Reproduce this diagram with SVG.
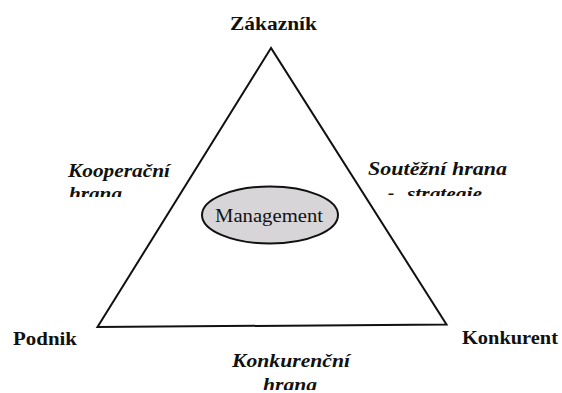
<svg xmlns="http://www.w3.org/2000/svg" width="562" height="393" viewBox="0 0 562 393">
  <style>
    .vertex { font-family: "Liberation Serif", "DejaVu Serif", serif; font-weight: 700; font-size: 19px; fill: #111; }
    .edge { font-family: "Liberation Serif", "DejaVu Serif", serif; font-weight: 700; font-style: italic; font-size: 19px; fill: #111; }
    .core { font-family: "Liberation Serif", "DejaVu Serif", serif; font-size: 19px; fill: #111; }
    .side { fill: none; stroke: #111; stroke-width: 2; stroke-linejoin: miter; }
  </style>
  <defs>
    <!-- second label lines are cut off at their lower edge -->
    <clipPath id="cutLeft"><rect x="0" y="0" width="270" height="197"/></clipPath>
    <clipPath id="cutRight"><rect x="280" y="0" width="282" height="196"/></clipPath>
    <clipPath id="cutBottom"><rect x="0" y="0" width="562" height="390"/></clipPath>
  </defs>
  <rect width="562" height="393" fill="#ffffff"/>

  <!-- triangle edges -->
  <g id="connectors">
    <path class="side" d="M271 48 L97.5 327 L446.5 324.5 Z"/>
  </g>

  <g id="zakaznik">
    <text class="vertex" x="230" y="30" textLength="87" lengthAdjust="spacingAndGlyphs">Zákazník</text>
  </g>
  <g id="podnik">
    <text class="vertex" x="13" y="345" textLength="64" lengthAdjust="spacingAndGlyphs">Podnik</text>
  </g>
  <g id="konkurent">
    <text class="vertex" x="462" y="344" textLength="96" lengthAdjust="spacingAndGlyphs">Konkurent</text>
  </g>

  <g id="management">
    <ellipse cx="270" cy="215" rx="68" ry="28.5" fill="#d8d5d9" stroke="#111" stroke-width="2"/>
    <text class="core" x="215" y="222" textLength="108" lengthAdjust="spacingAndGlyphs">Management</text>
  </g>

  <g id="kooperacni-hrana">
    <text class="edge" x="68" y="177" textLength="102" lengthAdjust="spacingAndGlyphs">Kooperační</text>
    <text class="edge" x="69" y="200" textLength="53" lengthAdjust="spacingAndGlyphs" clip-path="url(#cutLeft)">hrana</text>
  </g>

  <g id="soutezni-hrana">
    <text class="edge" x="368" y="175" textLength="139" lengthAdjust="spacingAndGlyphs">Soutěžní hrana</text>
    <text class="edge" x="388" y="199" clip-path="url(#cutRight)">-</text>
    <text class="edge" x="407" y="200" textLength="75" lengthAdjust="spacingAndGlyphs" clip-path="url(#cutRight)">strategie</text>
  </g>

  <g id="konkurencni-hrana">
    <text class="edge" x="232" y="367" textLength="118" lengthAdjust="spacingAndGlyphs">Konkurenční</text>
    <text class="edge" x="263" y="391" textLength="54" lengthAdjust="spacingAndGlyphs" clip-path="url(#cutBottom)">hrana</text>
  </g>
</svg>
